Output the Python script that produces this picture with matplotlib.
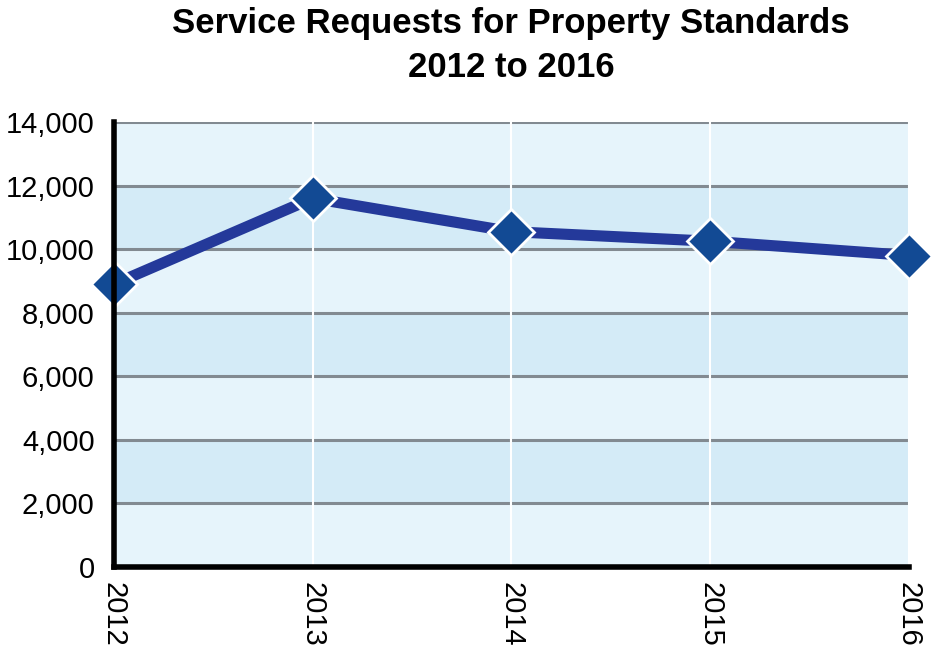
import matplotlib.pyplot as plt
from matplotlib.ticker import FuncFormatter

# Yearly service request counts
years = ['2012', '2013', '2014', '2015', '2016']
requests = [8900, 11600, 10550, 10250, 9800]
y_ticks = [0, 2000, 4000, 6000, 8000, 10000, 12000, 14000]

plt.rcParams['font.family'] = ['Liberation Sans', 'DejaVu Sans']

fig = plt.figure(figsize=(9.38, 6.5), dpi=100)
ax = fig.add_axes([0.1215, 0.1277, 0.8475, 0.6846])

x = list(range(len(years)))

# Alternating horizontal bands
for i in range(len(y_ticks) - 1):
    color = '#d4ebf7' if i % 2 == 1 else '#e6f4fb'
    ax.axhspan(y_ticks[i], y_ticks[i + 1], color=color, zorder=0, lw=0)

for yv in y_ticks[1:]:
    ax.axhline(yv, color='#828a91', lw=2.2, zorder=1)
for xv in x[1:]:
    ax.axvline(xv, color='white', lw=1.5, zorder=1)

ax.plot(x, requests, color='#24399a', lw=8, zorder=3, solid_capstyle='butt')
ax.plot(x, requests, ls='none', marker='D', ms=23, mfc='#124a94',
        mec='white', mew=2, zorder=4, clip_on=False)

ax.set_xlim(0, len(years) - 1)
ax.set_ylim(0, 14000)
ax.set_xticks(x)
ax.set_xticklabels(years, rotation=270, fontsize=21)
ax.set_yticks(y_ticks)
ax.yaxis.set_major_formatter(FuncFormatter(lambda v, p: f'{int(v):,}'))
ax.tick_params(axis='y', labelsize=21, length=0, pad=14)
ax.tick_params(axis='x', length=0, pad=11)

for side in ['top', 'right']:
    ax.spines[side].set_visible(False)
ax.spines['left'].set_linewidth(4)
ax.spines['bottom'].set_linewidth(4)
ax.spines['left'].set_zorder(5)
ax.spines['bottom'].set_zorder(5)

fig.text(0.545, 0.99, 'Service Requests for Property Standards\n2012 to 2016',
         ha='center', va='top', fontsize=25, fontweight='bold', linespacing=1.45)

fig.savefig('out.png', dpi=100)
